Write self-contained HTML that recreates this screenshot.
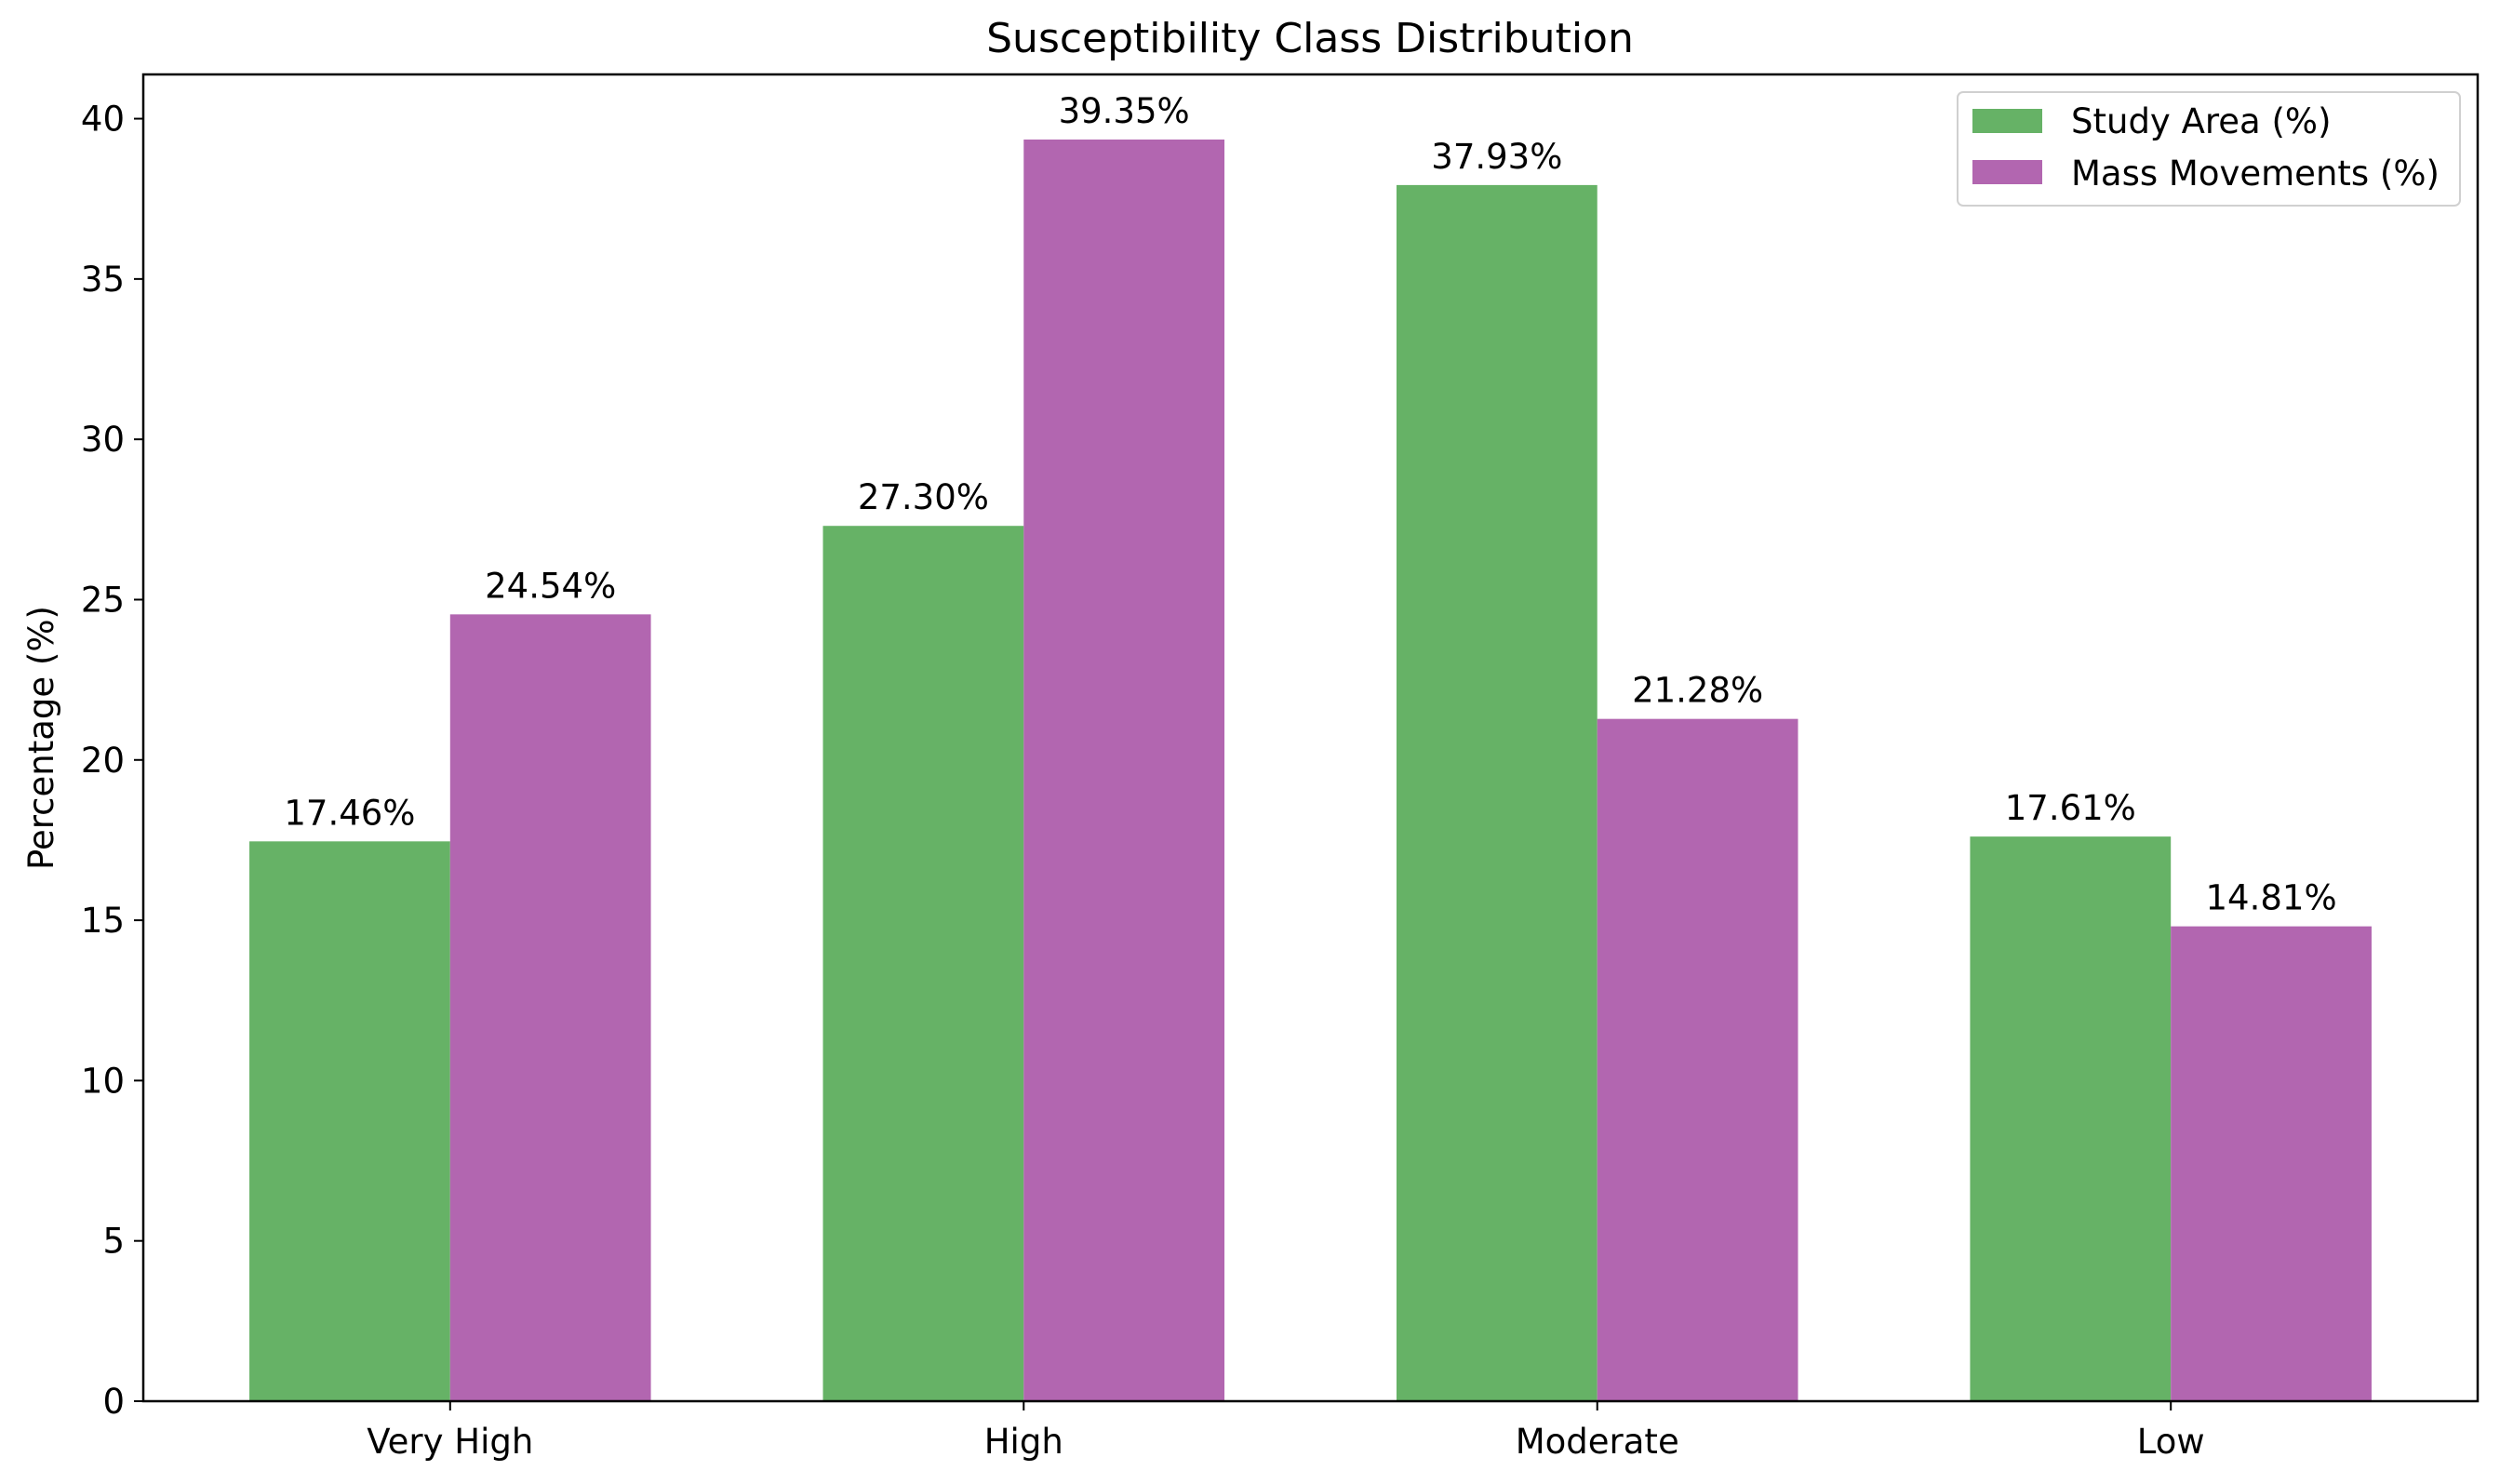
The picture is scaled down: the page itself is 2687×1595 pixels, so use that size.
<!DOCTYPE html>
<html><head><meta charset="utf-8"><style>
html,body{margin:0;padding:0;background:#fff;}
svg text{font-family:"DejaVu Sans","Liberation Sans",sans-serif;fill:#000;}
</style></head><body>
<svg id="chart" width="2687" height="1590" xmlns="http://www.w3.org/2000/svg">
<text x="1408" y="56" font-size="44" text-anchor="middle">Susceptibility Class Distribution</text>
<text transform="translate(57,793) rotate(-90)" font-size="37" text-anchor="middle">Percentage (%)</text>
<g id="bars"></g>
<g id="axes"></g>
<g>
<rect x="2104" y="99" width="540" height="122" rx="6" fill="#fff" fill-opacity="0.8" stroke="#d0d0d0" stroke-width="2"/>
<rect x="2120" y="117" width="75" height="26" fill="#66b266"/>
<text x="2226" y="143" font-size="37">Study Area (%)</text>
<rect x="2120" y="172" width="75" height="26" fill="#b266b0"/>
<text x="2226" y="199" font-size="37">Mass Movements (%)</text>
</g>
</svg>
<script>
const categories = ["Very High", "High", "Moderate", "Low"];
const studyArea = [17.46, 27.30, 37.93, 17.61];
const massMovements = [24.54, 39.35, 21.28, 14.81];
const yTicks = [0, 5, 10, 15, 20, 25, 30, 35, 40];

const NS = "http://www.w3.org/2000/svg";
const L = 154, R = 2663, T = 80, B = 1506;
const xMin = -0.535, xMax = 3.535, yMin = 0, yMax = 41.38;
const xs = v => L + (v - xMin) / (xMax - xMin) * (R - L);
const ys = v => B - (v - yMin) / (yMax - yMin) * (B - T);
const barW = 0.35;
function mk(tag, attrs, parent) {
  const e = document.createElementNS(NS, tag);
  for (const k in attrs) e.setAttribute(k, attrs[k]);
  parent.appendChild(e);
  return e;
}
const bars = document.getElementById("bars");
const axes = document.getElementById("axes");
const series = [[studyArea, "#66b266", -barW / 2, "study-area"], [massMovements, "#b266b0", barW / 2, "mass-movements"]];
series.forEach(s => {
  s[0].forEach((v, i) => {
    const x0 = xs(i + s[2] - barW / 2), x1 = xs(i + s[2] + barW / 2);
    const r = mk("rect", {x: x0, y: ys(v), width: x1 - x0, height: ys(0) - ys(v), fill: s[1]}, bars);
    
    
    const t = mk("text", {x: (x0 + x1) / 2, y: ys(v) - 18, "font-size": "37", "text-anchor": "middle"}, bars);
    t.textContent = v.toFixed(2) + "%";
    
    
  });
});
const frame = mk("rect", {x: L, y: T, width: R - L, height: B - T, fill: "none", stroke: "#000", "stroke-width": "2.5"}, axes);


yTicks.forEach(v => {
  const y = ys(v);
  const tk = mk("line", {x1: L - 10, x2: L, y1: y, y2: y, stroke: "#000", "stroke-width": "2"}, axes);
  
  
  const t = mk("text", {x: L - 20, y: y + 13, "font-size": "37", "text-anchor": "end"}, axes);
  t.textContent = v;
  
  
});
categories.forEach((c, i) => {
  const x = xs(i);
  const tk = mk("line", {x1: x, x2: x, y1: B, y2: B + 10, stroke: "#000", "stroke-width": "2"}, axes);
  
  
  const t = mk("text", {x: x, y: B + 56, "font-size": "37", "text-anchor": "middle"}, axes);
  t.textContent = c;
  
  
});
</script>
</body></html>
